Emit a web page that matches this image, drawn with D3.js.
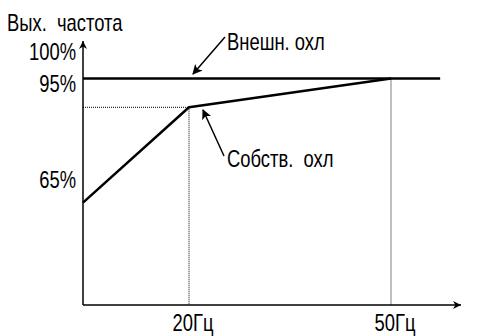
<!DOCTYPE html>
<html>
<head>
<meta charset="utf-8">
<script src="https://cdn.jsdelivr.net/npm/d3@7"></script>
<style>
  html, body { margin: 0; padding: 0; background: #fff; }
  svg { display: block; }
  text { font-family: "Liberation Sans", Arial, sans-serif; font-size: 23px; fill: #000; white-space: pre; }
</style>
</head>
<body>
<svg id="chart" width="478" height="336"></svg>
<script>
// Output frequency limit vs. motor frequency for two cooling modes
const freqTicks = [20, 50];
const freqTickLabels = ["20Гц", "50Гц"];
const pctTicks = [100, 95, 65];
const pctTickLabels = ["100%", "95%", "65%"];

// Self-cooled motor: reduced limit at low frequency, knee at 20 Hz
const selfFreq = [0, 20, 50];
const selfPct = [51, 86, 95];
// Forced (external) cooling: flat limit
const extFreq = [0, 57.3];
const extPct = [95, 95];

const svg = d3.select("#chart");

// Schematic (piecewise) scales
const x = d3.scaleLinear().domain([0, 20, 50]).range([83, 189, 391]);
const y = d3.scaleLinear().domain([0, 65, 95, 100]).range([305, 174.5, 78.5, 46]);

const x0 = x(0), y0 = y(0);
const narrow = 0.8; // horizontal condensing of the label font

// Condensed label at (px, py)
function label(g, px, py, str, anchor) {
  return g.append("text")
    .attr("transform", `translate(${px},${py}) scale(${narrow},1)`)
    .attr("text-anchor", anchor || "start")
    .text(str);
}

// Arrow markers
const defs = svg.append("defs");
defs.append("marker")
  .attr("id", "lead").attr("viewBox", "0 0 10 10")
  .attr("refX", 9).attr("refY", 5)
  .attr("markerWidth", 10).attr("markerHeight", 10)
  .attr("markerUnits", "userSpaceOnUse").attr("orient", "auto")
  .append("path").attr("d", "M0,0 L10,5 L0,10 L2.5,5 Z").attr("fill", "#000");
defs.append("marker")
  .attr("id", "axisHead").attr("viewBox", "0 0 10 10")
  .attr("refX", 10).attr("refY", 5)
  .attr("markerWidth", 9).attr("markerHeight", 8)
  .attr("markerUnits", "userSpaceOnUse").attr("orient", "auto")
  .append("path").attr("d", "M0,0 L10,5 L0,10 L3,5 Z").attr("fill", "#000");

// Dotted guides
const guides = svg.append("g")
  .attr("stroke", "#000").attr("stroke-width", 1)
  .attr("stroke-dasharray", "1,1").attr("fill", "none");
guides.append("line")
  .attr("x1", x(selfFreq[1])).attr("x2", x(selfFreq[1]))
  .attr("y1", y(selfPct[1])).attr("y2", y0);
guides.append("line")
  .attr("x1", x(selfFreq[2])).attr("x2", x(selfFreq[2]))
  .attr("y1", y(selfPct[2])).attr("y2", y0);
guides.append("line")
  .attr("x1", x0).attr("x2", x(selfFreq[1]))
  .attr("y1", y(selfPct[1])).attr("y2", y(selfPct[1]));

// Axes with arrowheads
svg.append("line")
  .attr("x1", x0).attr("y1", y0).attr("x2", x0).attr("y2", 41)
  .attr("stroke", "#000").attr("stroke-width", 1.5)
  .attr("marker-end", "url(#axisHead)");
svg.append("line")
  .attr("x1", x0).attr("y1", y0).attr("x2", 461).attr("y2", y0)
  .attr("stroke", "#000").attr("stroke-width", 1.5)
  .attr("marker-end", "url(#axisHead)");

// Curves
const line = d3.line().x(d => x(d[0])).y(d => y(d[1]));
svg.append("path")
  .datum(d3.zip(extFreq, extPct))
  .attr("d", line).attr("fill", "none")
  .attr("stroke", "#000").attr("stroke-width", 2.5);
svg.append("path")
  .datum(d3.zip(selfFreq, selfPct))
  .attr("d", line).attr("fill", "none")
  .attr("stroke", "#000").attr("stroke-width", 2.5)
  .attr("stroke-linejoin", "round");

// Y tick labels
const yl = svg.append("g");
pctTicks.forEach((d, i) => label(yl, 76, y(d) + 13.5, pctTickLabels[i], "end"));

// X tick labels
const xl = svg.append("g");
freqTicks.forEach((d, i) => label(xl, x(d) + 4, 331, freqTickLabels[i], "middle"));

// Axis title
label(svg, 7, 31, "Вых.  частота");

// Callouts
svg.append("line")
  .attr("x1", 225).attr("y1", 37).attr("x2", 193).attr("y2", 74)
  .attr("stroke", "#000").attr("stroke-width", 1.5)
  .attr("marker-end", "url(#lead)");
label(svg, 227, 50, "Внешн. охл");

svg.append("line")
  .attr("x1", 224).attr("y1", 156).attr("x2", 203).attr("y2", 110)
  .attr("stroke", "#000").attr("stroke-width", 1.5)
  .attr("marker-end", "url(#lead)");
label(svg, 227, 167, "Собств.  охл");
</script>
</body>
</html>
